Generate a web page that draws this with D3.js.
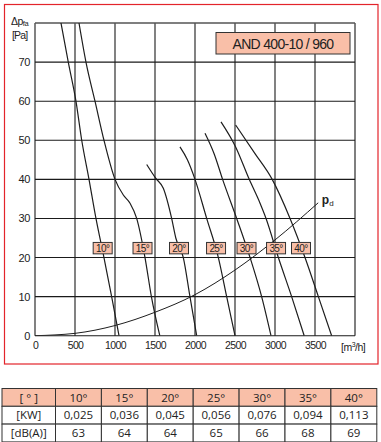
<!DOCTYPE html>
<html><head><meta charset="utf-8">
<script src="https://cdn.jsdelivr.net/npm/d3@7"></script>
<style>
html,body{margin:0;padding:0;background:#fff;}
svg{display:block;}
text{font-family:"Liberation Sans",Arial,sans-serif;fill:#222;}
.tbl{font-family:"Open Sans","Noto Sans",sans-serif;}
</style></head>
<body>
<svg id="c" width="381" height="442"></svg>
<script>
// ---- data ----
const xTicks = [0, 500, 1000, 1500, 2000, 2500, 3000, 3500];
const yTicks = [0, 10, 20, 30, 40, 50, 60, 70];
const angles = ["10°", "15°", "20°", "25°", "30°", "35°", "40°"];
const curve10 = [[325,80],[416,70],[512,60],[584,50],[675,40],[762,30],[862,20],[958,10],[1050,0]];
const curve15 = [[550,80],[637,70],[750,60],[862,50],[1000,40],[1104,36],[1188,33.9],[1271,30],[1375,20],[1455,10],[1560,0]];
const curve20 = [[1396,43.8],[1508,40.3],[1604,37.7],[1708,30],[1760,25],[1854,20],[1937,10],[2021,0]];
const curve25 = [[1812,48.3],[1905,45],[2000,40],[2146,30],[2292,20],[2396,10],[2500,0]];
const curve30 = [[2125,51.8],[2240,46.5],[2345,40],[2521,30],[2688,20],[2833,10],[2950,0]];
const curve35 = [[2325,54.7],[2508,48.3],[2678,40],[2813,33.9],[2888,30],[3042,20],[3208,10],[3365,0]];
const curve40 = [[2508,53.9],[2750,46.6],[2965,40],[3188,30],[3375,20],[3542,10],[3708,0]];
const pdCurve = [[0,0],[250,0.2],[500,0.6],[1000,2.6],[1500,6],[2000,10.5],[2500,16.8],[3000,24.5],[3540,34]];
const labelX = [846, 1344, 1800, 2263, 2644, 3013, 3325];
const labelY = 22.4;
const title = "AND 400-10 / 960";
const rowHeads = ["[ ° ]", "[KW]", "[dB(A)]"];
const powerKW = ["0,025", "0,036", "0,045", "0,056", "0,076", "0,094", "0,113"];
const noiseDB = ["63", "64", "64", "65", "66", "68", "69"];

const svg = d3.select("#c");
const salmon = "#F9BFA8";

// red frame
svg.append("rect").attr("x",4.5).attr("y",4.5).attr("width",373.5).attr("height",359.5)
  .attr("fill","none").attr("stroke","#e3242b").attr("stroke-width",1.2);

const L = 35, R = 355, T = 23, B = 335.7;
const x = d3.scaleLinear().domain([0,4000]).range([L,R]);
const y = d3.scaleLinear().domain([0,80]).range([B,T]);

// grid
const g = svg.append("g");
g.selectAll("line.v").data(xTicks.concat([4000])).join("line")
  .attr("x1",d=>x(d)).attr("x2",d=>x(d)).attr("y1",T).attr("y2",B)
  .attr("stroke",d=>d===4000?"#555":"#1a1a1a").attr("stroke-width",d=>d===4000?1.5:1.1);
g.selectAll("line.h").data(yTicks.concat([80])).join("line")
  .attr("y1",d=>y(d)).attr("y2",d=>y(d)).attr("x1",L).attr("x2",R)
  .attr("stroke",d=>d===80?"#555":"#1a1a1a").attr("stroke-width",d=>d===80?1.5:1.1);

// axes labels
const xa = svg.append("g").attr("transform",`translate(0,${B})`)
  .call(d3.axisBottom(x).tickValues(xTicks).tickSize(0).tickPadding(6).tickFormat(d3.format("d")));
xa.select(".domain").remove();
xa.selectAll("text").attr("font-size",10.5).attr("font-family","Liberation Sans, Arial, sans-serif")
  .attr("letter-spacing","-0.6").attr("fill","#222");
const ya = svg.append("g").attr("transform",`translate(${L},0)`)
  .call(d3.axisLeft(y).tickValues(yTicks).tickSize(0).tickPadding(5));
ya.select(".domain").remove();
ya.selectAll("text").attr("font-size",11).attr("font-family","Liberation Sans, Arial, sans-serif")
  .attr("letter-spacing","-0.4").attr("fill","#222");

// unit labels
const yl = svg.append("text").attr("x",11).attr("y",24.5).attr("font-size",10.5).attr("letter-spacing","-0.5");
yl.append("tspan").text("Δp");
yl.append("tspan").attr("font-size",7.5).attr("dy",1.5).text("fa");
svg.append("text").attr("x",12).attr("y",38.5).attr("font-size",10.5).attr("letter-spacing","-0.8").text("[Pa]");
const xl = svg.append("text").attr("x",341).attr("y",351).attr("font-size",10.5).attr("letter-spacing","-0.5");
xl.append("tspan").text("[m");
xl.append("tspan").attr("font-size",7).attr("dy",-4).text("3");
xl.append("tspan").attr("dy",4).text("/h]");

// clip
svg.append("clipPath").attr("id","pc").append("rect").attr("x",L).attr("y",T).attr("width",R-L).attr("height",B-T);

const line = d3.line().x(d=>x(d[0])).y(d=>y(d[1])).curve(d3.curveMonotoneX);
const curves = [curve10,curve15,curve20,curve25,curve30,curve35,curve40];
const cg = svg.append("g").attr("clip-path","url(#pc)");
cg.selectAll("path.c").data(curves).join("path")
  .attr("d",line).attr("fill","none").attr("stroke","#1e1e1e").attr("stroke-width",1.2);
cg.append("path").attr("d",line(pdCurve)).attr("fill","none").attr("stroke","#1e1e1e").attr("stroke-width",1);

// pd label
const pl = svg.append("text").attr("x",x(3560)+2).attr("y",y(34)+1).attr("font-size",12);
pl.append("tspan").attr("font-weight","bold").text("p");
pl.append("tspan").attr("font-size",8).attr("dy",2).text("d");

// angle labels
const lg = svg.append("g").selectAll("g").data(angles).join("g")
  .attr("transform",(d,i)=>`translate(${x(labelX[i])},${y(labelY)})`);
lg.append("rect").attr("x",-9.5).attr("y",-5.7).attr("width",19).attr("height",11.4)
  .attr("fill",salmon).attr("stroke","#333").attr("stroke-width",1);
lg.append("text").attr("text-anchor","middle").attr("dy","0.36em").attr("font-size",10)
  .attr("letter-spacing","-0.6").text(d=>d);

// title box
svg.append("rect").attr("x",216).attr("y",32.5).attr("width",134).attr("height",21.5)
  .attr("fill",salmon).attr("stroke","#333").attr("stroke-width",1);
svg.append("text").attr("x",283).attr("y",43.5).attr("dy","0.36em").attr("text-anchor","middle")
  .attr("font-size",14).attr("letter-spacing","-0.7").text(title);

// table
const tx0 = 2, tw0 = 53.5, cw = 45.9, ty0 = 388.5, rh = 17.8;
const rows = [[rowHeads[0]].concat(angles), [rowHeads[1]].concat(powerKW), [rowHeads[2]].concat(noiseDB)];
const colX = i => i===0 ? tx0 : tx0 + tw0 + (i-1)*cw;
const colW = i => i===0 ? tw0 : cw;
const tg = svg.append("g").attr("class","tbl");
rows.forEach((r,ri)=>{
  r.forEach((c,ci)=>{
    tg.append("rect").attr("x",colX(ci)).attr("y",ty0+ri*rh).attr("width",colW(ci)).attr("height",rh)
      .attr("fill",ri===0?salmon:"#fff").attr("stroke","#333").attr("stroke-width",1);
    tg.append("text").attr("class","tbl").attr("x",colX(ci)+colW(ci)/2).attr("y",ty0+ri*rh+rh/2)
      .attr("dy","0.36em").attr("text-anchor","middle").attr("font-size",11.5).text(c);
  });
});
</script>
</body></html>
